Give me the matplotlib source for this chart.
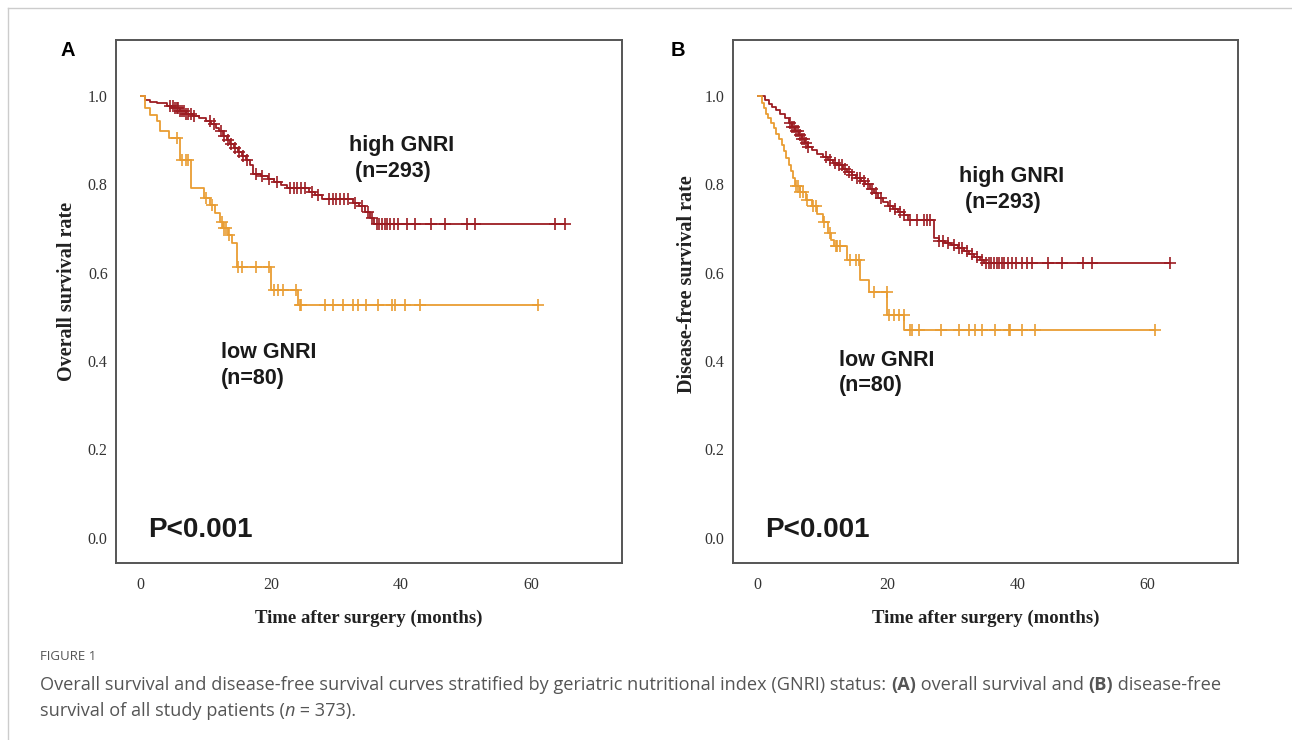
import numpy as np
import matplotlib
matplotlib.use('Agg')
import matplotlib.pyplot as plt
from matplotlib.lines import Line2D

# ---- data ----
# Panel A: overall survival
hi_A_t = [0, 0.6, 1.5, 2.5, 4.0, 5.0, 6.0, 7.0, 8.0, 9.0, 10.0, 10.8, 11.5, 12.0, 12.6,
          13.2, 13.8, 14.4, 15.0, 15.6, 16.2, 16.8, 17.3, 18.5, 19.5, 20.5, 21.5, 22.5,
          25.8, 26.8, 27.8, 32.6, 33.5, 34.5, 35.2, 35.9]
hi_A_s = [1.0, 0.992, 0.987, 0.984, 0.978, 0.972, 0.966, 0.960, 0.955, 0.950, 0.943, 0.936,
          0.928, 0.920, 0.910, 0.900, 0.892, 0.883, 0.874, 0.865, 0.856, 0.845, 0.824, 0.818,
          0.812, 0.806, 0.799, 0.791, 0.783, 0.775, 0.766, 0.757, 0.750, 0.738, 0.724, 0.710]
hi_A_cens = [4.5, 4.9, 5.2, 5.5, 5.8, 6.1, 6.4, 6.7, 7.0, 7.3, 7.7, 8.2, 10.6, 11.2, 12.3,
             12.8, 13.4, 13.9, 14.5, 15.1, 15.7, 16.3, 17.8, 18.6, 19.8, 21.0, 22.9, 23.5,
             24.0, 24.6, 25.2, 26.3, 27.2, 28.9, 29.5, 30.1, 30.7, 31.3, 31.9, 33.0, 34.0,
             34.9, 35.6, 36.3, 36.7, 37.1, 37.5, 37.9, 38.4, 38.9, 39.5, 40.9, 42.2, 44.7,
             46.8, 50.1, 51.4, 63.7, 65.2]

lo_A_t = [0, 0.6, 1.4, 2.5, 3.0, 4.3, 6.0, 7.8, 9.8, 10.6, 11.4, 12.2, 12.7, 13.4, 14.0,
          14.8, 20.1, 24.2]
lo_A_s = [1.0, 0.973, 0.958, 0.943, 0.920, 0.905, 0.856, 0.792, 0.769, 0.754, 0.735, 0.716,
          0.701, 0.686, 0.668, 0.614, 0.561, 0.527]
lo_A_cens = [5.5, 6.4, 6.9, 7.3, 10.1, 11.0, 12.5, 12.8, 13.1, 13.5, 15.0, 15.5, 17.8, 19.8,
             20.5, 21.1, 21.9, 23.9, 24.5, 24.7, 28.3, 29.6, 31.1, 32.7, 33.4, 34.7, 36.5,
             38.6, 39.1, 40.6, 42.9, 61.1]

# Panel B: disease-free survival
hi_B_t = [0, 1.2, 1.7, 2.2, 2.8, 3.5, 4.2, 4.8, 5.3, 5.8, 6.3, 6.8, 7.3, 7.8, 8.4, 9.2,
          10.0, 10.8, 11.6, 12.4, 13.1, 13.8, 14.5, 15.2, 15.9, 16.6, 17.3, 18.0, 18.6,
          19.3, 20.1, 20.9, 21.7, 22.5, 23.1, 27.1, 27.9, 28.8, 29.8, 30.8, 31.8, 32.6,
          33.4, 34.2, 34.9]
hi_B_s = [1.0, 0.990, 0.982, 0.975, 0.968, 0.960, 0.950, 0.940, 0.930, 0.920, 0.911, 0.902,
          0.894, 0.885, 0.877, 0.869, 0.861, 0.855, 0.849, 0.843, 0.836, 0.829, 0.821, 0.815,
          0.808, 0.800, 0.790, 0.780, 0.770, 0.760, 0.752, 0.744, 0.737, 0.730, 0.720, 0.678,
          0.672, 0.667, 0.662, 0.656, 0.649, 0.643, 0.636, 0.629, 0.622]
hi_B_cens = [5.0, 5.3, 5.6, 5.9, 6.2, 6.5, 6.8, 7.1, 7.4, 7.8, 10.5, 11.2, 11.9, 12.6, 13.0,
             13.5, 14.0, 14.6, 15.3, 15.8, 16.4, 17.0, 17.6, 18.2, 19.0, 20.4, 21.2, 22.0,
             22.6, 23.5, 24.6, 25.6, 26.1, 26.6, 28.0, 28.6, 29.4, 30.2, 31.0, 31.5, 32.2,
             33.0, 33.8, 34.5, 35.2, 35.6, 36.0, 36.4, 36.8, 37.2, 37.6, 38.0, 38.5, 39.2,
             39.8, 40.7, 41.5, 42.3, 44.8, 46.9, 50.2, 51.5, 63.5]

lo_B_t = [0, 0.7, 1.0, 1.3, 1.6, 2.0, 2.5, 2.9, 3.3, 3.7, 4.0, 4.4, 4.8, 5.1, 5.4, 5.7,
          6.5, 7.4, 8.4, 9.2, 10.0, 10.9, 11.3, 11.7, 13.8, 15.8, 17.1, 20.0, 22.6]
lo_B_s = [1.0, 0.985, 0.972, 0.960, 0.950, 0.940, 0.928, 0.915, 0.902, 0.889, 0.876, 0.860,
          0.845, 0.830, 0.815, 0.797, 0.782, 0.765, 0.750, 0.733, 0.716, 0.690, 0.674, 0.660,
          0.628, 0.584, 0.557, 0.505, 0.470]
lo_B_cens = [5.9, 6.2, 6.6, 7.0, 7.6, 8.6, 9.0, 10.3, 11.1, 12.0, 12.3, 12.7, 14.3, 15.1,
             15.6, 17.9, 19.9, 20.2, 21.0, 21.8, 22.5, 23.5, 23.8, 24.8, 28.2, 31.0, 32.5,
             33.5, 34.6, 36.6, 38.7, 38.9, 40.7, 42.8, 61.2]

x_ticks = [0, 20, 40, 60]
y_ticks = [0.0, 0.2, 0.4, 0.6, 0.8, 1.0]

HI_COLOR = '#9c1c22'
LO_COLOR = '#e99d33'
SANS = ['Liberation Sans', 'DejaVu Sans']
SERIF = ['Liberation Serif', 'DejaVu Serif']
CAP = ['Open Sans', 'DejaVu Sans']


def km_curve(ax, t, s, cens, color):
    t = np.asarray(t)
    s = np.asarray(s)
    end = max(cens)
    ax.plot(np.append(t, end), np.append(s, s[-1]), drawstyle='steps-post',
            color=color, lw=1.3, zorder=3)
    # censor ticks sit on the step level in force at that time
    idx = np.searchsorted(t, cens, side='right') - 1
    ax.plot(cens, s[idx], ls='none', marker='+', ms=8, mew=1.2, color=color, zorder=4)


def panel(rect, letter, letter_x, ylabel, ylab_xy, hi, lo, hi_txt_xy, lo_txt_xy):
    ax = fig.add_axes(rect)
    km_curve(ax, *hi, HI_COLOR)
    km_curve(ax, *lo, LO_COLOR)
    ax.set_xlim(-3.8, 74.0)
    ax.set_ylim(-0.057, 1.127)
    ax.set_xticks(x_ticks)
    ax.set_yticks(y_ticks)
    ax.set_yticklabels([f'{v:.1f}' for v in y_ticks])
    ax.tick_params(length=0, labelsize=11.5, labelcolor='#333333')
    ax.tick_params(axis='y', pad=6)
    ax.tick_params(axis='x', pad=10)
    for lab in ax.get_xticklabels() + ax.get_yticklabels():
        lab.set_family(SERIF)
    for sp in ax.spines.values():
        sp.set_color('#555555')
        sp.set_linewidth(1.4)
    ax.set_xlabel('Time after surgery (months)', family=SERIF, fontweight='bold',
                  fontsize=13.5, labelpad=12, color='#222222')
    ax.set_ylabel(ylabel, family=SERIF, fontweight='bold', fontsize=14.5, color='#222222')
    ax.yaxis.set_label_coords(*ylab_xy)
    ax.yaxis.label.set_verticalalignment('center')
    ax.text(hi_txt_xy[0], hi_txt_xy[1], 'high GNRI\n (n=293)', family=SANS,
            fontweight='bold', fontsize=15.5, color='#1a1a1a', va='top',
            linespacing=1.3)
    ax.text(lo_txt_xy[0], lo_txt_xy[1], 'low GNRI\n(n=80)', family=SANS,
            fontweight='bold', fontsize=15.5, color='#1a1a1a', va='top',
            linespacing=1.3)
    ax.text(1.2, 0.018, 'P<0.001', family=SANS, fontweight='bold', fontsize=20,
            color='#1a1a1a', va='center')
    fig.text(letter_x, 1 - 51 / 740, letter, family=SANS, fontweight='bold',
             fontsize=14.5, ha='center', va='center')
    return ax


def caption_parts(x, y, parts):
    # chain text pieces so bold / italic runs sit inline
    anchor = None
    for txt, style in parts:
        kw = dict(family=CAP, fontsize=13.1, color='#555555')
        if style == 'b':
            kw['fontweight'] = 'bold'
        if style == 'i':
            kw['style'] = 'italic'
        if anchor is None:
            anchor = fig.text(x, y, txt, va='bottom', **kw)
        else:
            anchor = fig.axes[0].annotate(txt, xy=(1, 0), xycoords=anchor, va='bottom',
                                          annotation_clip=False, **kw)


fig = plt.figure(figsize=(12.92, 7.40), dpi=100)

panel([0.0898, 0.2392, 0.3916, 0.7068], 'A', 68 / 1292, 'Overall survival rate',
      (-0.097, 0.52), (hi_A_t, hi_A_s, hi_A_cens), (lo_A_t, lo_A_s, lo_A_cens),
      (32.0, 0.912), (12.3, 0.443))
panel([0.5673, 0.2392, 0.3909, 0.7068], 'B', 678 / 1292, 'Disease-free survival rate',
      (-0.091, 0.533), (hi_B_t, hi_B_s, hi_B_cens), (lo_B_t, lo_B_s, lo_B_cens),
      (31.0, 0.842), (12.5, 0.426))

# page frame lines
fig.add_artist(Line2D([8 / 1292, 1], [1 - 8 / 740, 1 - 8 / 740], color='#cccccc', lw=1))
fig.add_artist(Line2D([8 / 1292, 8 / 1292], [0, 1 - 8 / 740], color='#cccccc', lw=1))

# caption
fig.text(40 / 1292, 1 - 657 / 740, 'FIGURE 1', family=CAP, fontsize=9.5, color='#555555',
         va='center')
caption_parts(40 / 1292, 1 - 694 / 740, [
    ('Overall survival and disease-free survival curves stratified by geriatric '
     'nutritional index (GNRI) status: ', 'n'),
    ('(A)', 'b'), (' overall survival and ', 'n'), ('(B)', 'b'), (' disease-free', 'n')])
caption_parts(40 / 1292, 1 - 720 / 740, [
    ('survival of all study patients (', 'n'), ('n', 'i'), (' = 373).', 'n')])

fig.savefig('out.png', dpi=100)
